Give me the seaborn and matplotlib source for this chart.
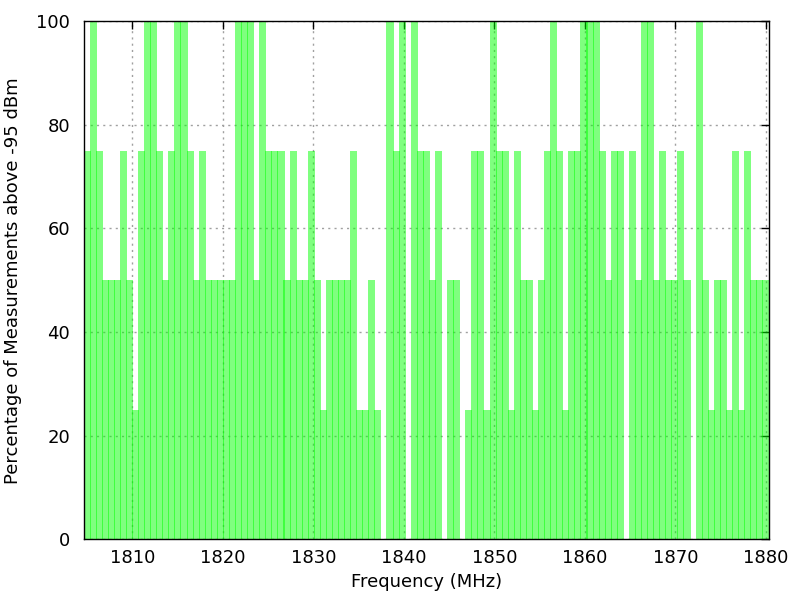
import matplotlib
matplotlib.use("Agg")
import matplotlib.pyplot as plt
import seaborn as sns
import numpy as np
import pandas as pd

# channel centres, 1805 to 1880 MHz
freq_start = 1805.0
freq_stop = 1880.0
n_bins = 113
freqs = np.linspace(freq_start, freq_stop, n_bins)

pct = [75, 100, 75, 50, 50, 50, 75, 50, 25, 75,
       100, 100, 75, 50, 75, 100, 100, 75, 50, 75,
       50, 50, 50, 50, 50, 100, 100, 100, 50, 100,
       75, 75, 75, 50, 75, 50, 50, 75, 50, 25,
       50, 50, 50, 50, 75, 25, 25, 50, 25, 0,
       100, 75, 100, 0, 100, 75, 75, 50, 75, 0,
       50, 50, 0, 25, 75, 75, 25, 100, 75, 75,
       25, 75, 50, 50, 25, 50, 75, 100, 75, 25,
       75, 75, 100, 100, 100, 75, 50, 75, 75, 0,
       75, 50, 100, 100, 50, 75, 50, 50, 75, 50,
       0, 100, 50, 25, 50, 50, 25, 75, 25, 75,
       50, 50, 50]

df = pd.DataFrame({"freq": freqs, "pct": pct})

sns.set_style("white")
plt.rcParams['font.family'] = ['DejaVu Sans']
plt.rcParams['text.color'] = 'black'
plt.rcParams['axes.labelcolor'] = 'black'

fig = plt.figure(figsize=(8, 6), dpi=100)
ax = fig.add_axes([0.105, 0.101, 0.856, 0.864])

step = (freq_stop - freq_start) / (n_bins - 1)
# a little wider than the step so neighbours overlap like the gnuplot boxes
ax.bar(df["freq"], df["pct"], width=step * 1.17, color="#00ff00", alpha=0.5,
       linewidth=0, zorder=3)

ax.set_xlim(freq_start - step / 2, freq_stop + step / 2)
ax.set_ylim(0, 100)
ax.set_xticks(range(1810, 1881, 10))
ax.set_yticks(range(0, 101, 20))

ax.grid(True, color="#a0a0a0", linestyle=(0, (1.5, 3)), linewidth=1, zorder=0)
ax.set_axisbelow(True)
for s in ax.spines.values():
    s.set_color("black")
    s.set_linewidth(1)
    s.set_zorder(5)

ax.tick_params(direction="in", length=5.5, width=1, top=True, right=True,
               labelsize=13, colors="black", labelcolor="black")
ax.tick_params(axis="x", pad=7)
ax.tick_params(axis="y", pad=10)

ax.set_xlabel("Frequency (MHz)", fontsize=13, labelpad=4, color="black")
ax.set_ylabel("Percentage of Measurements above -95 dBm", fontsize=13,
              labelpad=10, color="black")

fig.savefig("out.png", dpi=100)
